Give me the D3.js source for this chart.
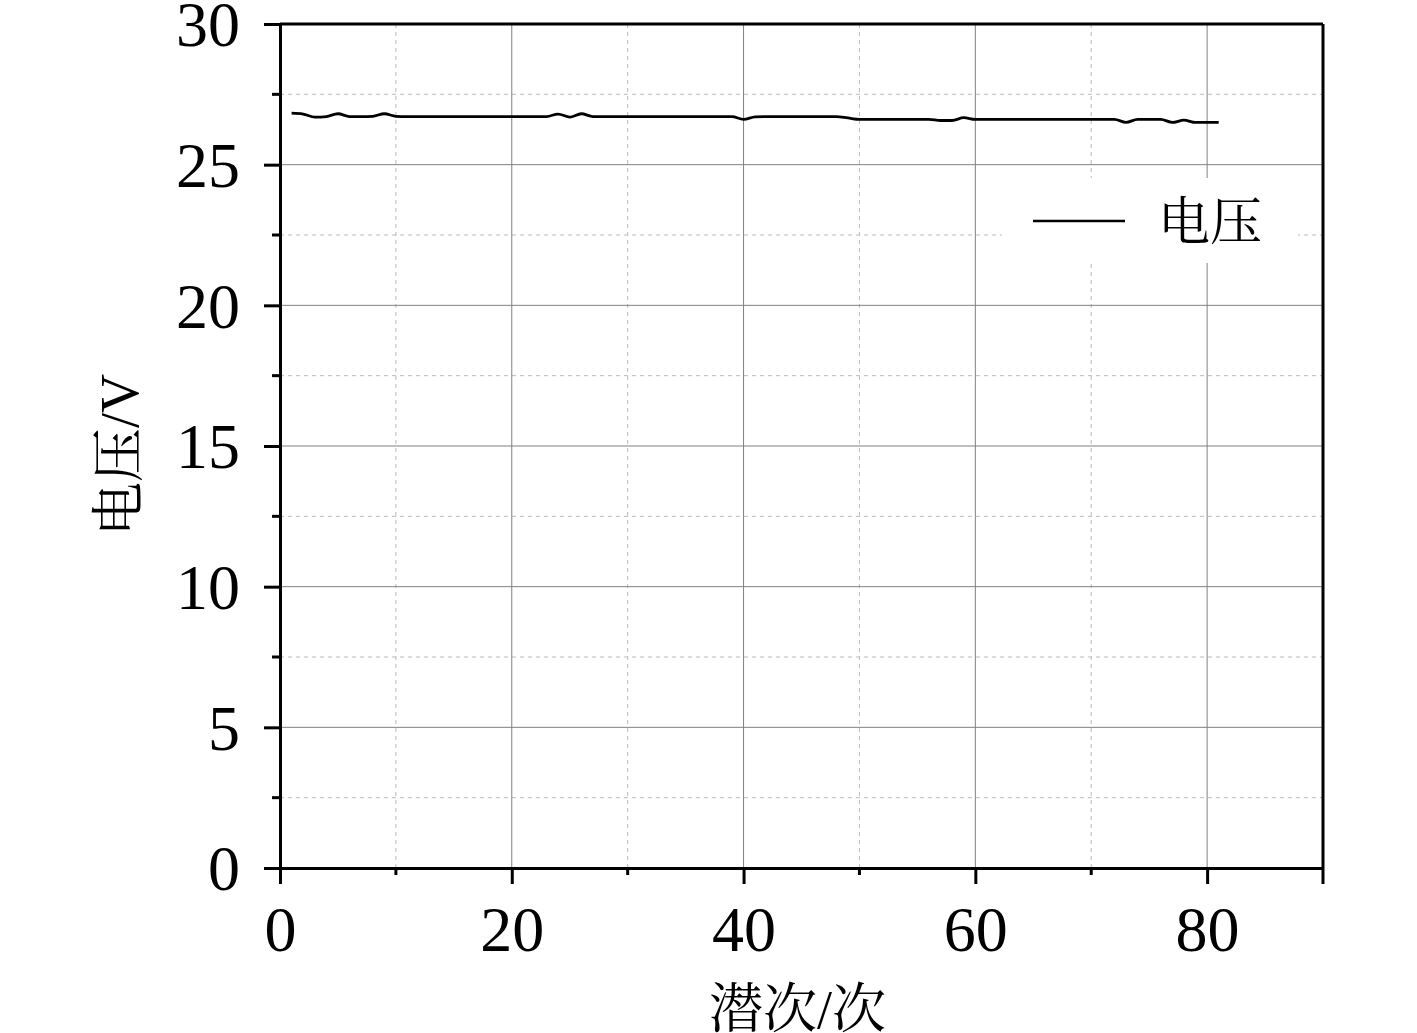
<!DOCTYPE html>
<html>
<head>
<meta charset="utf-8">
<script src="https://cdn.jsdelivr.net/npm/d3@7"></script>
<style>
  body { margin: 0; background: #fff; }
  svg text { font-family: "Liberation Serif", "Noto Serif CJK SC", "Noto Sans CJK SC", serif; fill: #000; }
</style>
</head>
<body>
<div id="chart"></div>
<script>
// voltage per dive, dives 1..81
var voltage = [26.83, 26.80, 26.69, 26.71, 26.81, 26.71, 26.71, 26.72, 26.81, 26.72,
  26.71, 26.71, 26.71, 26.71, 26.71, 26.71, 26.71, 26.71, 26.71, 26.71,
  26.71, 26.71, 26.71, 26.80, 26.69, 26.81, 26.71, 26.71, 26.71, 26.71,
  26.71, 26.71, 26.71, 26.71, 26.71, 26.71, 26.71, 26.71, 26.71, 26.61,
  26.70, 26.71, 26.71, 26.71, 26.71, 26.71, 26.71, 26.71, 26.66, 26.61,
  26.61, 26.61, 26.61, 26.61, 26.61, 26.61, 26.57, 26.57, 26.67, 26.61,
  26.61, 26.61, 26.61, 26.61, 26.61, 26.61, 26.61, 26.61, 26.61, 26.61,
  26.61, 26.61, 26.50, 26.61, 26.61, 26.61, 26.50, 26.58, 26.50, 26.50,
  26.50];
var xTicks = [0, 20, 40, 60, 80];
var xMinor = [10, 30, 50, 70];
var yTicks = [0, 5, 10, 15, 20, 25, 30];
var yMinor = [2.5, 7.5, 12.5, 17.5, 22.5, 27.5];
var xTitle = "潜次/次";
var yTitle = "电压/V";
var legendLabel = "电压";

var W = 1417, H = 1033;
var pLeft = 280, pRight = 1323, pTop = 24, pBottom = 868;

var svg = d3.select("#chart").append("svg")
  .attr("width", W).attr("height", H);

var x = d3.scaleLinear().domain([0, 90]).range([pLeft, pRight]);
var y = d3.scaleLinear().domain([0, 30]).range([pBottom, pTop]);

// grid
var grid = svg.append("g");
grid.selectAll(".xminor").data(xMinor).enter().append("line")
  .attr("x1", x).attr("x2", x).attr("y1", pTop).attr("y2", pBottom)
  .attr("stroke", "#bbb").attr("stroke-width", 1).attr("stroke-dasharray", "4,4");
grid.selectAll(".yminor").data(yMinor).enter().append("line")
  .attr("x1", pLeft).attr("x2", pRight).attr("y1", y).attr("y2", y)
  .attr("stroke", "#bbb").attr("stroke-width", 1).attr("stroke-dasharray", "4,4");
grid.selectAll(".xmajor").data(xTicks.filter(function(d){ return d > 0; })).enter().append("line")
  .attr("x1", x).attr("x2", x).attr("y1", pTop).attr("y2", pBottom)
  .attr("stroke", "#808080").attr("stroke-width", 1);
grid.selectAll(".ymajor").data(yTicks.filter(function(d){ return d > 0 && d < 30; })).enter().append("line")
  .attr("x1", pLeft).attr("x2", pRight).attr("y1", y).attr("y2", y)
  .attr("stroke", "#808080").attr("stroke-width", 1);

// legend box (white, hides grid)
svg.append("rect").attr("x", 1002).attr("y", 178).attr("width", 296).attr("height", 85)
  .attr("fill", "#fff");
svg.append("line").attr("x1", 1033).attr("x2", 1125).attr("y1", 221).attr("y2", 221)
  .attr("stroke", "#000").attr("stroke-width", 2.5);
svg.append("text").attr("x", 1158).attr("y", 221).attr("dy", "0.36em")
  .attr("font-size", 52).text(legendLabel);

// data line
var line = d3.line()
  .x(function(d, i){ return x(i + 1); })
  .y(function(d){ return y(d); })
  .curve(d3.curveMonotoneX);
svg.append("path").datum(voltage)
  .attr("d", line).attr("fill", "none")
  .attr("stroke", "#000").attr("stroke-width", 2.8).attr("stroke-linejoin", "round");

// axes
var xAxis = d3.axisBottom(x).tickValues(xTicks).tickSize(16).tickSizeOuter(0).tickPadding(22)
  .tickFormat(d3.format("d"));
var gx = svg.append("g").attr("transform", "translate(0," + pBottom + ")").call(xAxis);
gx.selectAll("text").attr("font-size", 64).style("font-family", "Liberation Serif, serif");

var yAxis = d3.axisLeft(y).tickValues(yTicks).tickSize(16).tickSizeOuter(0).tickPadding(24)
  .tickFormat(d3.format("d"));
var gy = svg.append("g").attr("transform", "translate(" + pLeft + ",0)").call(yAxis);
gy.selectAll("text").attr("font-size", 64).attr("dy", "0.34em").style("font-family", "Liberation Serif, serif");

[gx, gy].forEach(function(g){
  g.select(".domain").attr("stroke", "#000").attr("stroke-width", 3);
  g.selectAll(".tick line").attr("stroke", "#000").attr("stroke-width", 3);
});

// minor ticks
svg.append("g").selectAll("line").data(xMinor).enter().append("line")
  .attr("x1", x).attr("x2", x).attr("y1", pBottom).attr("y2", pBottom + 7)
  .attr("stroke", "#000").attr("stroke-width", 3);
svg.append("g").selectAll("line").data(yMinor).enter().append("line")
  .attr("x1", pLeft - 8).attr("x2", pLeft).attr("y1", y).attr("y2", y)
  .attr("stroke", "#000").attr("stroke-width", 3);

// top and right frame
svg.append("line").attr("x1", pLeft).attr("x2", pRight).attr("y1", pTop).attr("y2", pTop)
  .attr("stroke", "#000").attr("stroke-width", 3);
svg.append("line").attr("x1", pRight).attr("x2", pRight).attr("y1", pTop).attr("y2", pBottom + 16)
  .attr("stroke", "#000").attr("stroke-width", 3);

// titles
svg.append("text").attr("x", (pLeft + pRight) / 2 - 4).attr("y", 1028)
  .attr("text-anchor", "middle").attr("font-size", 54).text(xTitle);
svg.append("text").attr("transform", "translate(138,455) rotate(-90)")
  .attr("text-anchor", "middle").attr("font-size", 54).text(yTitle);
</script>
</body>
</html>
